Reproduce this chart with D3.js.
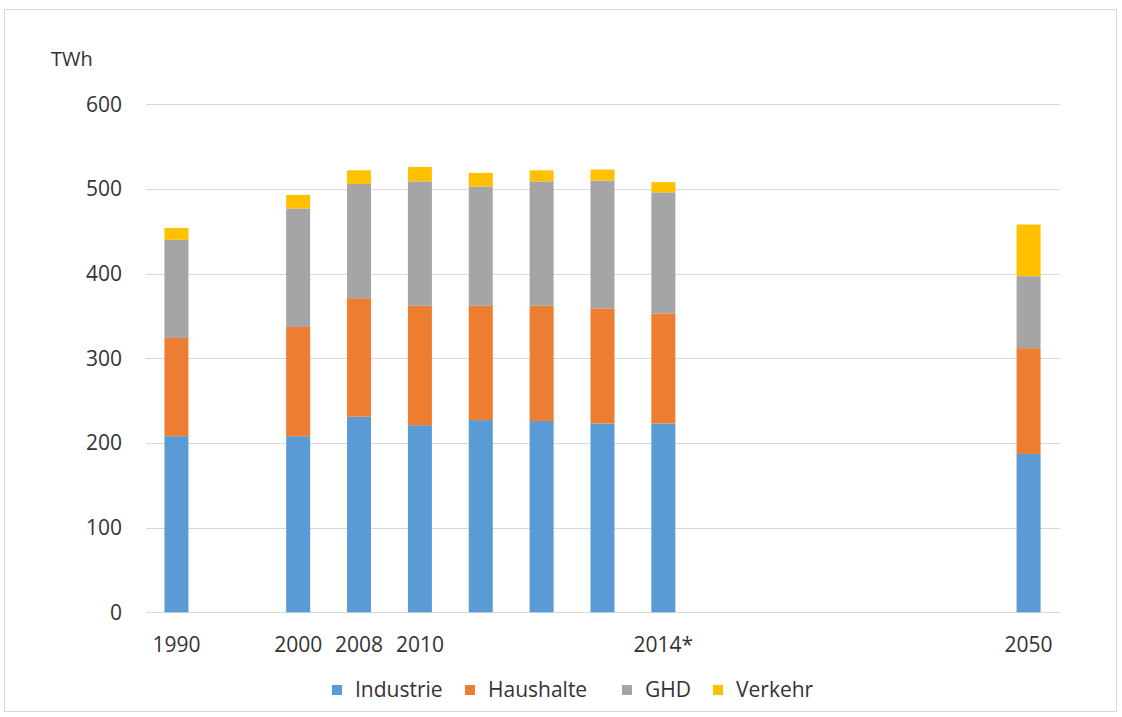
<!DOCTYPE html>
<html><head><meta charset="utf-8">
<script src="https://cdn.jsdelivr.net/npm/d3@7"></script>
<style>
html,body{margin:0;padding:0;background:#fff;}
text{font-family:"Open Sans","Noto Sans",sans-serif;fill:#333333;}
</style></head>
<body><svg id="c" width="1122" height="717"></svg>
<script>
// Data
const slots = ["1990","b1","2000","2008","2010","2011","2012","2013","2014*","b2","b3","b4","b5","b6","2050"];
const slotLabels = ["1990","","2000","2008","2010","","","","2014*","","","","","","2050"];
const categories = ["1990","2000","2008","2010","2011","2012","2013","2014*","2050"];
const industrie = [208,208,231,221,227,226,223,223,187];
const haushalte = [116,129,140,141,135,136,136,130,125];
const ghd       = [116,140,135,147,141,147,151,143,85];
const verkehr   = [14,16,16,17,16,13,13,12,61];
const seriesNames = ["Industrie","Haushalte","GHD","Verkehr"];
const colors = ["#5B9BD5","#ED7D31","#A5A5A5","#FFC000"];
const yTicks = [0,100,200,300,400,500,600];

const svg = d3.select("#c");
svg.append("rect").attr("x",4.5).attr("y",9.5).attr("width",1112).attr("height",702)
  .attr("fill","#fff").attr("stroke","#d9d9d9");

const x = d3.scaleBand().domain(slots).range([146,1059]).paddingInner(0.6).paddingOuter(0.3);
const y = d3.scaleLinear().domain([0,600]).range([612.3,104.3]);

// gridlines
svg.append("g").selectAll("line").data(yTicks).join("line")
  .attr("x1",146).attr("x2",1060).attr("y1",d=>Math.round(y(d))+0.5).attr("y2",d=>Math.round(y(d))+0.5)
  .attr("stroke","#d9d9d9").attr("stroke-width",1);

// y labels
svg.append("g").selectAll("text").data(yTicks).join("text")
  .attr("x",122).attr("y",d=>y(d)).attr("dy","0.35em").attr("text-anchor","end")
  .attr("font-size",21).text(d=>d);

svg.append("text").attr("x",51).attr("y",66).attr("font-size",20).text("TWh");

// stacked bars
const rows = categories.map((c,i)=>({cat:c,Industrie:industrie[i],Haushalte:haushalte[i],GHD:ghd[i],Verkehr:verkehr[i]}));
const stack = d3.stack().keys(seriesNames)(rows);
const bw = 24;
svg.append("g").selectAll("g").data(stack).join("g").attr("fill",(d,i)=>colors[i])
  .selectAll("rect").data(d=>d).join("rect")
  .attr("x",d=>x(d.data.cat)+x.bandwidth()/2-bw/2).attr("width",bw)
  .attr("y",d=>y(d[1])).attr("height",d=>y(d[0])-y(d[1]));

// x labels
svg.append("g").selectAll("text").data(slots.map((s,i)=>({s,l:slotLabels[i]})).filter(d=>d.l)).join("text")
  .attr("x",d=>x(d.s)+x.bandwidth()/2).attr("y",645).attr("dy","0.35em").attr("text-anchor","middle")
  .attr("font-size",21).text(d=>d.l);

// legend
const legX = [332,465,622,713];
const lg = svg.append("g").selectAll("g").data(seriesNames).join("g")
  .attr("transform",(d,i)=>`translate(${legX[i]},690)`);
lg.append("rect").attr("x",0).attr("y",-5).attr("width",10).attr("height",10).attr("fill",(d,i)=>colors[i]);
lg.append("text").attr("x",23).attr("y",0).attr("dy","0.35em").attr("font-size",21).text(d=>d);
</script></body></html>
